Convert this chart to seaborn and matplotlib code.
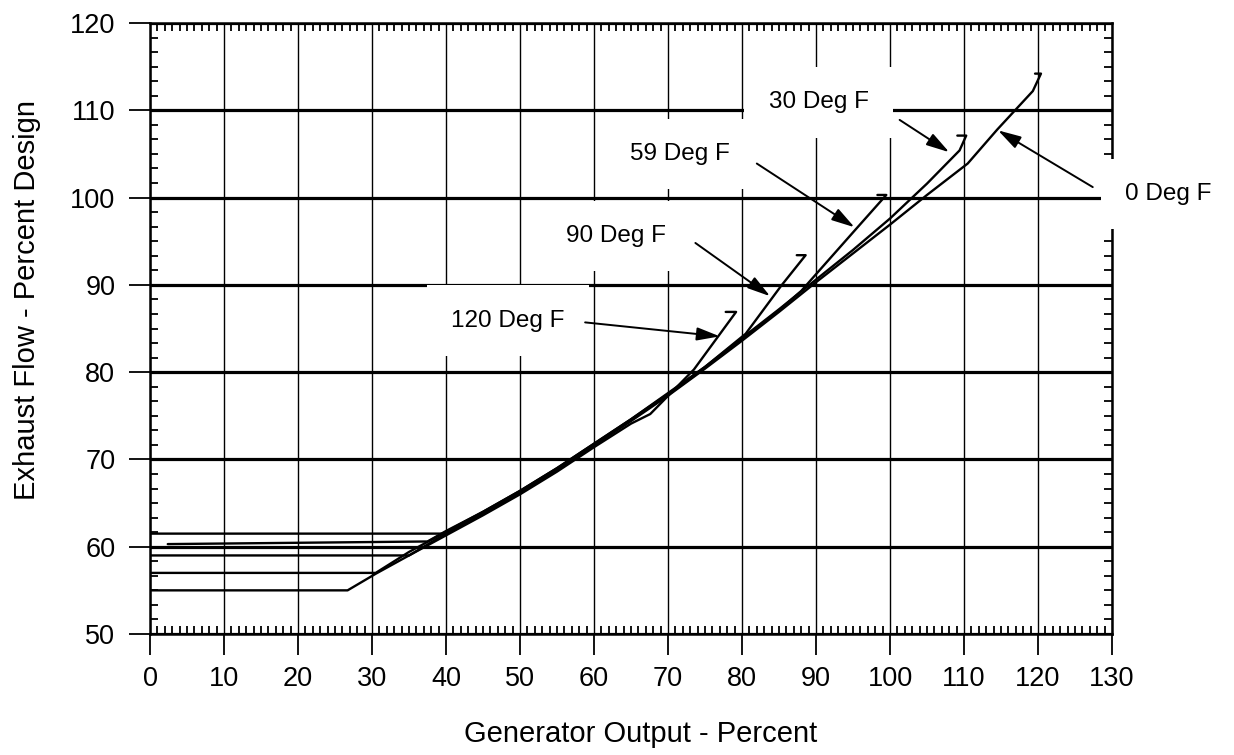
import matplotlib
matplotlib.use("Agg")
import matplotlib.pyplot as plt
from matplotlib.ticker import MultipleLocator, AutoMinorLocator
import seaborn as sns
import pandas as pd

# ---- data ----
x_0F = [0, 40, 45, 50, 55, 60, 65, 70, 75, 80, 85, 90, 95, 100, 105, 110.5, 114.5, 119.3, 120.4, 119.6]
y_0F = [61.5, 61.5, 63.8, 66.2, 68.8, 71.6, 74.4, 77.3, 80.4, 83.6, 86.9, 90.3, 93.6, 96.9, 100.3, 103.9, 107.8, 112.2, 114.2, 114.2]

x_30F = [2.4, 37.5, 40, 45, 50, 55, 60, 65, 70, 75, 80, 85, 90, 95, 100, 105, 109.4, 110.3, 109.1]
y_30F = [60.3, 60.6, 61.8, 64.0, 66.4, 69.0, 71.8, 74.6, 77.5, 80.6, 83.9, 87.2, 90.6, 94.0, 97.6, 101.6, 105.4, 107.1, 107.1]

x_59F = [0, 35, 40, 45, 50, 55, 60, 65, 70, 75, 80, 85, 88, 95.2, 99.5, 98.3]
y_59F = [59.0, 59.0, 61.5, 63.8, 66.3, 68.9, 71.7, 74.5, 77.4, 80.5, 83.8, 87.1, 89.3, 96.2, 100.3, 100.3]

x_90F = [0, 30.5, 35, 40, 45, 50, 55, 60, 65, 70, 75, 80.5, 85.3, 88.6, 87.4]
y_90F = [57.0, 57.0, 59.4, 61.7, 64.0, 66.4, 69.0, 71.8, 74.6, 77.6, 80.6, 84.4, 89.9, 93.4, 93.4]

x_120F = [0, 26.7, 30.5, 35, 40, 45, 50, 55, 60, 65, 67.6, 73.5, 79.2, 77.8]
y_120F = [55.0, 55.0, 56.9, 59.0, 61.3, 63.6, 66.0, 68.6, 71.4, 74.1, 75.2, 80.3, 86.9, 86.9]

temps = ["0 Deg F", "30 Deg F", "59 Deg F", "90 Deg F", "120 Deg F"]
xs = [x_0F, x_30F, x_59F, x_90F, x_120F]
ys = [y_0F, y_30F, y_59F, y_90F, y_120F]

# label text anchor (left, center) and arrow tail/head
label_pos = {"0 Deg F": (131.8, 100.4), "30 Deg F": (83.6, 110.9), "59 Deg F": (64.9, 105.0),
             "90 Deg F": (56.2, 95.6), "120 Deg F": (40.7, 85.9)}
arrow_tail = {"0 Deg F": (127.4, 101.2), "30 Deg F": (101.3, 108.9), "59 Deg F": (82.0, 103.9),
              "90 Deg F": (73.7, 94.8), "120 Deg F": (58.8, 85.7)}
arrow_head = {"0 Deg F": (114.6, 107.7), "30 Deg F": (108.0, 105.2), "59 Deg F": (95.2, 96.6),
              "90 Deg F": (83.8, 88.7), "120 Deg F": (77.0, 84.1)}

x_ticks = list(range(0, 131, 10))
y_ticks = list(range(50, 121, 10))

rows = []
for t, xx, yy in zip(temps, xs, ys):
    for i, (a, b) in enumerate(zip(xx, yy)):
        rows.append({"temp": t, "order": i, "x": a, "y": b})
df = pd.DataFrame(rows)

sns.set_style("white")
plt.rcParams["font.family"] = ["Liberation Sans", "DejaVu Sans"]
plt.rcParams.update({"text.color": "black", "axes.labelcolor": "black",
                     "xtick.color": "black", "ytick.color": "black"})

fig = plt.figure(figsize=(12.34, 7.55), dpi=100)
ax = fig.add_axes([150 / 1234, 1 - 634 / 755, (1112 - 150) / 1234, (634 - 23) / 755])

sns.lineplot(data=df, x="x", y="y", hue="temp", palette=["black"] * 5, sort=False,
             estimator=None, legend=False, lw=1.7, ax=ax, zorder=4)

ax.set_xlim(0, 130)
ax.set_ylim(50, 120)
ax.set_xticks(x_ticks)
ax.set_yticks(y_ticks)
ax.xaxis.set_minor_locator(MultipleLocator(1))
ax.yaxis.set_minor_locator(AutoMinorLocator(6))

ax.tick_params(axis="x", which="major", direction="out", length=15, width=1.3,
               bottom=True, top=False, labelsize=19.5, pad=8, colors="black")
ax.tick_params(axis="x", which="minor", direction="in", length=6, width=1.3,
               bottom=True, top=True, colors="black")
ax.tick_params(axis="y", which="major", direction="out", length=15, width=1.3,
               left=True, right=False, labelsize=19.5, pad=10, colors="black")
ax.tick_params(axis="y", which="minor", direction="in", length=6, width=1.3,
               left=True, right=True, colors="black")

ax.grid(axis="y", which="major", color="black", lw=2.3, zorder=1)
ax.grid(axis="x", which="major", color="black", lw=1.0, zorder=1)
ax.set_axisbelow(True)

for s in ax.spines.values():
    s.set_color("black")
    s.set_linewidth(1.8)

ax.set_xlabel("Generator Output - Percent", fontsize=21, color="black")
ax.set_ylabel("Exhaust Flow - Percent Design", fontsize=21, color="black")
ax.xaxis.set_label_coords(0.51, -0.141)
ax.yaxis.set_label_coords(-0.113, 0.547)

for t in temps:
    lx, ly = label_pos[t]
    ax.text(lx, ly, t, ha="left", va="center", fontsize=17.5, zorder=3, clip_on=False,
            color="black", bbox=dict(boxstyle="square,pad=1.0", fc="white", ec="none"))
    ax.annotate("", xy=arrow_head[t], xytext=arrow_tail[t], annotation_clip=False,
                arrowprops=dict(arrowstyle="-|>,head_length=0.7,head_width=0.2",
                                mutation_scale=20, lw=1.4, color="black",
                                shrinkA=0, shrinkB=0), zorder=5)

fig.savefig("out.png", dpi=100)
